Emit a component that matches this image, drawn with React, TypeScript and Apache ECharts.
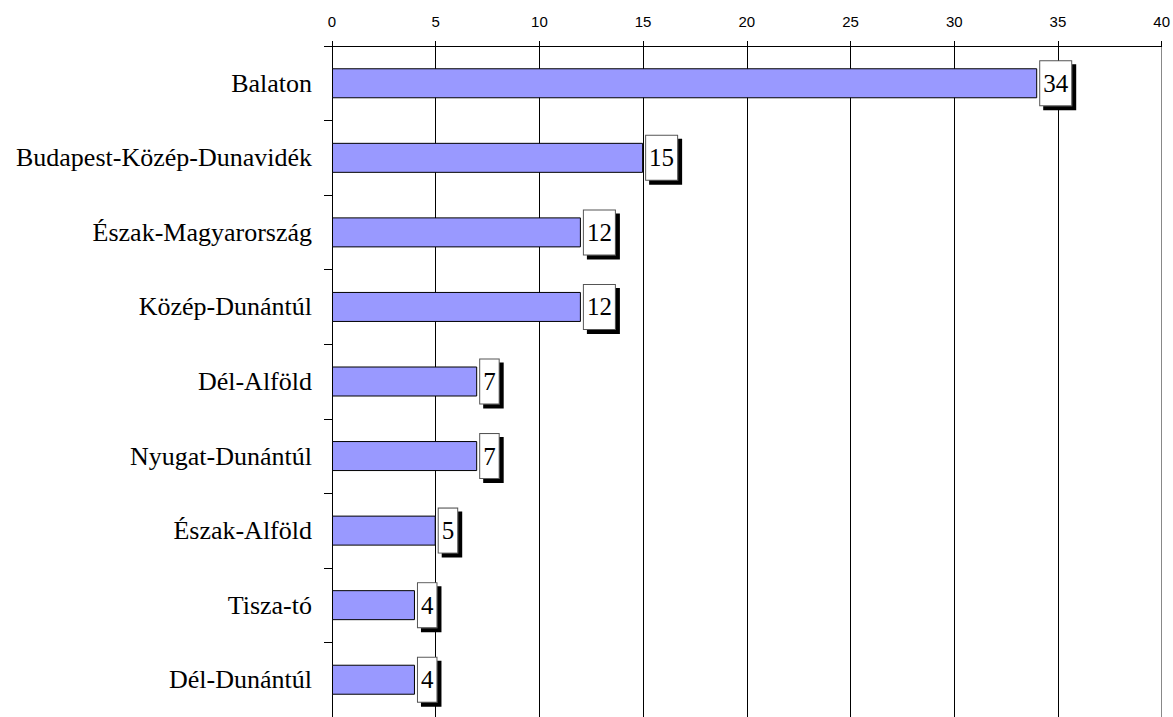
import React, { useEffect, useRef } from "react";
import * as echarts from "echarts";

const categories = [
  "Balaton",
  "Budapest-Közép-Dunavidék",
  "Észak-Magyarország",
  "Közép-Dunántúl",
  "Dél-Alföld",
  "Nyugat-Dunántúl",
  "Észak-Alföld",
  "Tisza-tó",
  "Dél-Dunántúl",
];
const values = [34, 15, 12, 12, 7, 7, 5, 4, 4];
const xTicks = { min: 0, max: 40, interval: 5 };

export default function App() {
  const ref = useRef<HTMLDivElement>(null);
  useEffect(() => {
    if (!ref.current) return;
    const chart = echarts.init(ref.current, undefined, { renderer: "svg" });
    chart.setOption({
      animation: false,
      grid: { left: 332, top: 46, width: 832, height: 678, containLabel: false },
      xAxis: {
        type: "value",
        position: "top",
        min: xTicks.min,
        max: xTicks.max,
        interval: xTicks.interval,
        axisLine: { show: true, lineStyle: { color: "#000", width: 1 } },
        axisTick: { show: true, length: 5, inside: false, lineStyle: { color: "#000" } },
        axisLabel: {
          fontFamily: "Liberation Sans, Arial, sans-serif",
          fontSize: 15,
          color: "#000",
          margin: 17,
        },
        splitLine: {
          show: true,
          lineStyle: {
            color: ["#000", "#000", "#000", "#000", "#000", "#000", "#000", "#000", "#888"],
            width: 1,
          },
        },
      },
      yAxis: {
        type: "category",
        inverse: true,
        data: categories,
        axisLine: { show: true, lineStyle: { color: "#000", width: 1 } },
        axisTick: { show: true, length: 8, alignWithLabel: false, lineStyle: { color: "#000" } },
        axisLabel: {
          fontFamily: "Liberation Serif, Times New Roman, serif",
          fontSize: 26,
          color: "#000",
          margin: 20,
        },
        splitLine: { show: false },
      },
      series: [
        {
          type: "bar",
          data: values,
          barWidth: 30,
          itemStyle: { color: "#9999ff", borderColor: "#000", borderWidth: 1 },
          label: {
            show: true,
            position: "right",
            distance: 3,
            fontFamily: "Liberation Serif, Times New Roman, serif",
            fontSize: 25,
            color: "#000",
            backgroundColor: "#fff",
            borderColor: "#555",
            borderWidth: 1,
            padding: [10, 3, 9, 3],
            shadowColor: "#000",
            shadowBlur: 0,
            shadowOffsetX: 4,
            shadowOffsetY: 4,
          },
        },
      ],
    });
    return () => chart.dispose();
  }, []);
  return <div ref={ref} style={{ width: 1173, height: 717, position: "absolute", left: 0, top: 0 }} />;
}
